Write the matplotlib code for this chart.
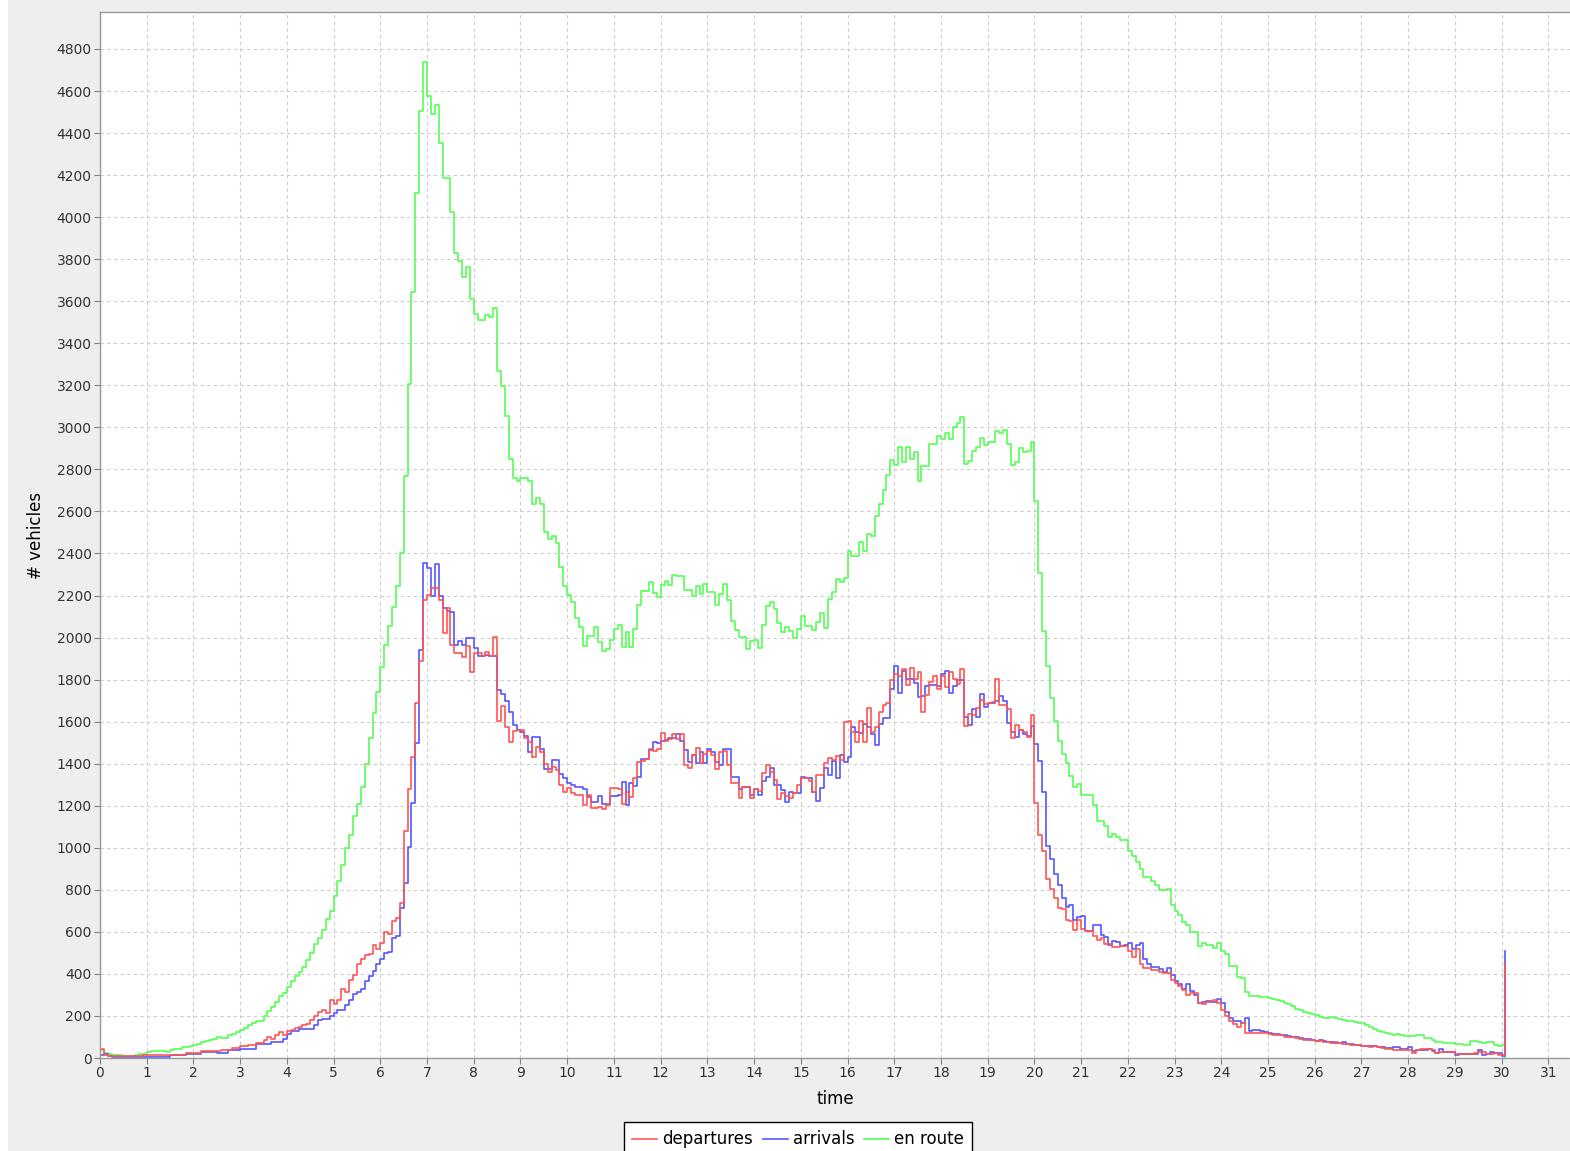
import matplotlib
matplotlib.use('Agg')
import matplotlib.pyplot as plt
from matplotlib.lines import Line2D
import numpy as np

# vehicles per 5-minute bin, one row per hour
departures = [
    44, 13, 10, 10, 10, 8, 8, 8, 8, 10, 10, 12,
    12, 12, 12, 12, 12, 16, 16, 16, 16, 16, 25, 25,
    25, 25, 32, 32, 32, 32, 32, 36, 36, 36, 47, 47,
    55, 58, 60, 60, 73, 73, 84, 100, 89, 108, 123, 111,
    127, 135, 142, 147, 155, 163, 179, 199, 218, 226, 215, 274,
    258, 274, 326, 316, 373, 395, 448, 470, 490, 494, 538, 519,
    546, 601, 589, 652, 665, 736, 1080, 1280, 1433, 1687, 1888, 2177,
    2202, 2237, 2237, 2177, 2020, 2139, 1967, 1925, 1925, 1909, 1961, 1837,
    1925, 1925, 1913, 1932, 1913, 2004, 1603, 1676, 1576, 1501, 1555, 1560,
    1560, 1520, 1501, 1433, 1481, 1457, 1397, 1362, 1386, 1370, 1299, 1267,
    1286, 1259, 1251, 1251, 1203, 1251, 1191, 1191, 1195, 1184, 1203, 1285,
    1285, 1282, 1206, 1266, 1243, 1333, 1408, 1411, 1424, 1468, 1459, 1471,
    1547, 1506, 1519, 1542, 1519, 1542, 1393, 1380, 1443, 1475, 1405, 1448,
    1459, 1440, 1377, 1456, 1459, 1393, 1306, 1306, 1238, 1290, 1290, 1235,
    1282, 1270, 1358, 1396, 1361, 1322, 1232, 1259, 1247, 1238, 1263, 1301,
    1330, 1330, 1317, 1266, 1348, 1348, 1405, 1427, 1416, 1437, 1416, 1598,
    1601, 1550, 1502, 1605, 1502, 1664, 1550, 1574, 1648, 1677, 1689, 1796,
    1827, 1819, 1851, 1775, 1854, 1804, 1838, 1648, 1727, 1790, 1819, 1756,
    1819, 1764, 1835, 1804, 1780, 1851, 1578, 1637, 1632, 1664, 1705, 1685,
    1689, 1692, 1804, 1677, 1680, 1658, 1520, 1583, 1562, 1550, 1526, 1633,
    1214, 1062, 986, 851, 803, 763, 715, 710, 657, 652, 610, 657,
    613, 605, 605, 578, 561, 569, 543, 543, 529, 529, 534, 534,
    511, 482, 517, 446, 429, 429, 420, 420, 411, 406, 406, 371,
    359, 341, 323, 301, 311, 311, 262, 258, 265, 271, 276, 262,
    227, 200, 174, 160, 148, 166, 121, 121, 121, 121, 121, 118,
    112, 110, 108, 110, 102, 100, 98, 95, 92, 88, 85, 84,
    80, 82, 78, 75, 72, 75, 70, 68, 66, 63, 60, 62,
    58, 55, 52, 55, 50, 48, 45, 44, 40, 37, 37, 37,
    37, 25, 37, 41, 41, 41, 37, 25, 29, 29, 29, 29,
    21, 21, 21, 21, 21, 25, 29, 29, 21, 21, 25, 16,
    13, 449,
]

arrivals = [
    15, 20, 8, 5, 5, 5, 5, 5, 5, 5, 5, 5,
    5, 5, 5, 5, 5, 5, 13, 13, 13, 13, 20, 20,
    20, 20, 28, 28, 28, 28, 25, 25, 25, 38, 38, 38,
    44, 44, 44, 44, 68, 68, 68, 68, 76, 76, 76, 92,
    115, 127, 127, 136, 136, 136, 136, 155, 179, 187, 187, 202,
    215, 226, 226, 253, 278, 305, 315, 326, 364, 392, 415, 446,
    471, 498, 506, 570, 582, 715, 831, 1005, 1211, 1497, 1940, 2357,
    2329, 2199, 2352, 2199, 2139, 2126, 2123, 1964, 1983, 1964, 1996, 1999,
    1951, 1913, 1913, 1917, 1913, 1913, 1750, 1730, 1698, 1644, 1584, 1560,
    1552, 1533, 1457, 1527, 1527, 1470, 1376, 1376, 1417, 1417, 1349, 1333,
    1310, 1300, 1291, 1291, 1279, 1243, 1219, 1219, 1247, 1206, 1206, 1247,
    1247, 1251, 1314, 1203, 1306, 1295, 1337, 1421, 1424, 1464, 1503, 1500,
    1506, 1511, 1522, 1522, 1542, 1506, 1464, 1408, 1440, 1405, 1456, 1405,
    1471, 1456, 1408, 1393, 1468, 1468, 1337, 1337, 1282, 1290, 1290, 1251,
    1282, 1251, 1317, 1337, 1380, 1298, 1301, 1274, 1216, 1266, 1259, 1263,
    1337, 1333, 1333, 1266, 1222, 1285, 1380, 1348, 1411, 1330, 1440, 1408,
    1431, 1574, 1550, 1545, 1590, 1575, 1542, 1487, 1590, 1616, 1616, 1756,
    1867, 1737, 1843, 1804, 1804, 1784, 1716, 1724, 1772, 1775, 1775, 1769,
    1827, 1843, 1737, 1772, 1796, 1796, 1621, 1582, 1658, 1621, 1732, 1669,
    1689, 1689, 1700, 1724, 1700, 1594, 1550, 1527, 1562, 1540, 1530, 1580,
    1496, 1413, 1267, 1009, 947, 873, 824, 763, 719, 728, 657, 670,
    675, 605, 605, 634, 631, 587, 575, 539, 557, 552, 534, 539,
    547, 517, 539, 547, 469, 446, 434, 434, 424, 411, 429, 394,
    368, 353, 329, 350, 318, 301, 262, 265, 271, 268, 268, 283,
    262, 218, 191, 174, 174, 166, 191, 130, 135, 135, 130, 125,
    118, 115, 112, 110, 108, 105, 100, 98, 95, 90, 92, 86,
    82, 85, 80, 78, 76, 72, 70, 74, 68, 65, 62, 64,
    58, 56, 55, 58, 52, 50, 48, 47, 50, 52, 41, 41,
    52, 32, 37, 37, 37, 41, 32, 25, 41, 29, 29, 29,
    13, 21, 19, 19, 19, 19, 37, 16, 21, 29, 25, 25,
    8, 508,
]

en_route = [
    38, 25, 20, 15, 15, 12, 10, 10, 10, 15, 17, 17,
    30, 32, 32, 32, 32, 28, 38, 41, 45, 50, 54, 58,
    62, 68, 75, 80, 86, 92, 100, 96, 96, 110, 115, 123,
    133, 145, 155, 165, 178, 178, 200, 225, 241, 266, 295, 310,
    340, 365, 390, 410, 435, 466, 500, 540, 570, 610, 660, 700,
    770, 840, 920, 1000, 1060, 1150, 1210, 1290, 1400, 1520, 1640, 1740,
    1858, 1967, 2056, 2145, 2246, 2402, 2767, 3208, 3645, 4115, 4503, 4738,
    4577, 4489, 4532, 4353, 4188, 4188, 4023, 3829, 3790, 3716, 3761, 3613,
    3538, 3512, 3512, 3536, 3524, 3567, 3266, 3198, 3052, 2848, 2761, 2747,
    2761, 2761, 2747, 2635, 2664, 2635, 2503, 2470, 2483, 2450, 2334, 2246,
    2204, 2169, 2091, 2052, 1959, 2009, 2009, 2052, 1978, 1936, 1945, 1989,
    2039, 2058, 1957, 2027, 1957, 2039, 2157, 2220, 2220, 2263, 2213, 2194,
    2252, 2269, 2250, 2299, 2295, 2295, 2228, 2228, 2197, 2244, 2205, 2257,
    2219, 2219, 2157, 2205, 2257, 2181, 2079, 2036, 2001, 2001, 1945, 1984,
    1989, 1949, 2058, 2150, 2168, 2134, 2071, 2027, 2052, 2033, 1999, 2039,
    2102, 2055, 2055, 2036, 2074, 2115, 2047, 2184, 2219, 2279, 2266, 2282,
    2414, 2390, 2390, 2453, 2414, 2493, 2485, 2577, 2634, 2704, 2773, 2846,
    2821, 2905, 2834, 2905, 2849, 2884, 2746, 2818, 2818, 2921, 2921, 2957,
    2945, 2973, 2945, 3000, 3021, 3048, 2826, 2842, 2889, 2905, 2948, 2916,
    2929, 2929, 2984, 2973, 2989, 2921, 2821, 2834, 2900, 2881, 2889, 2929,
    2652, 2309, 2033, 1866, 1712, 1603, 1506, 1448, 1404, 1341, 1290, 1302,
    1251, 1251, 1251, 1202, 1127, 1127, 1105, 1053, 1067, 1049, 1039, 1039,
    986, 961, 933, 898, 859, 859, 842, 821, 798, 798, 803, 728,
    701, 680, 648, 634, 599, 599, 534, 547, 539, 539, 525, 547,
    508, 494, 438, 438, 385, 381, 315, 297, 297, 297, 290, 290,
    285, 280, 276, 270, 262, 255, 245, 235, 228, 220, 215, 209,
    205, 195, 190, 192, 195, 190, 185, 180, 178, 175, 171, 168,
    165, 155, 147, 140, 130, 125, 119, 115, 110, 116, 108, 105,
    105, 105, 111, 108, 95, 95, 84, 76, 76, 73, 73, 73,
    65, 65, 63, 63, 79, 79, 76, 73, 76, 76, 63, 56,
    60, 0,
]

bin_hours = 5 / 60
time = np.arange(len(departures)) * bin_hours

W, H = 1570, 1151
fig = plt.figure(figsize=(W / 100, H / 100), dpi=100, facecolor='#EEEEEE')
fig.patches.append(plt.Rectangle((0, 0), 8 / W, 1, transform=fig.transFigure,
                                 facecolor='white', edgecolor='none'))

left, right, top, bottom = 100, 1570, 12, 1058
ax = fig.add_axes([left / W, 1 - bottom / H, (right - left) / W, (bottom - top) / H])
ax.set_facecolor('white')

# series 0 is painted last, so it sits on top
ax.step(time, en_route, where='post', color='#55FF55', lw=1.2, label='en route')
ax.step(time, arrivals, where='post', color='#5555FF', lw=1.2, label='arrivals')
ax.step(time, departures, where='post', color='#FF5555', lw=1.2, label='departures')

px_per_hour = 46.72
ax.set_xlim(0, (right - left) / px_per_hour)
ax.set_ylim(0, 4976)
ax.set_xticks(range(0, 32))
ax.set_yticks(range(0, 4801, 200))
ax.tick_params(axis='both', direction='out', length=4, width=0.8, color='#808080',
               labelsize=10, labelcolor='#333333', pad=2)
ax.grid(True, color='#CCCCCC', linestyle=(0, (3, 3)), linewidth=0.8)
ax.set_axisbelow(True)
for side in ['left', 'bottom', 'top']:
    ax.spines[side].set_color('#999999')
    ax.spines[side].set_linewidth(1.0)
ax.spines['right'].set_visible(False)

ax.set_xlabel('time', fontsize=12, labelpad=7)
ax.set_ylabel('# vehicles', fontsize=12, labelpad=8)

handles = [
    Line2D([], [], color='#FF5555', lw=1.2),
    Line2D([], [], color='#5555FF', lw=1.2),
    Line2D([], [], color='#55FF55', lw=1.2),
]
leg = fig.legend(handles, ['departures', 'arrivals', 'en route'], ncol=3,
                 loc='upper center', bbox_to_anchor=(798 / W, 1 - 1122 / H),
                 fontsize=12, frameon=True, fancybox=False, edgecolor='black',
                 framealpha=1, handlelength=1.5, handletextpad=0.3,
                 columnspacing=0.6, borderpad=0.5, borderaxespad=0)
leg.get_frame().set_linewidth(1.0)

fig.savefig('out.png', dpi=100, facecolor=fig.get_facecolor())
